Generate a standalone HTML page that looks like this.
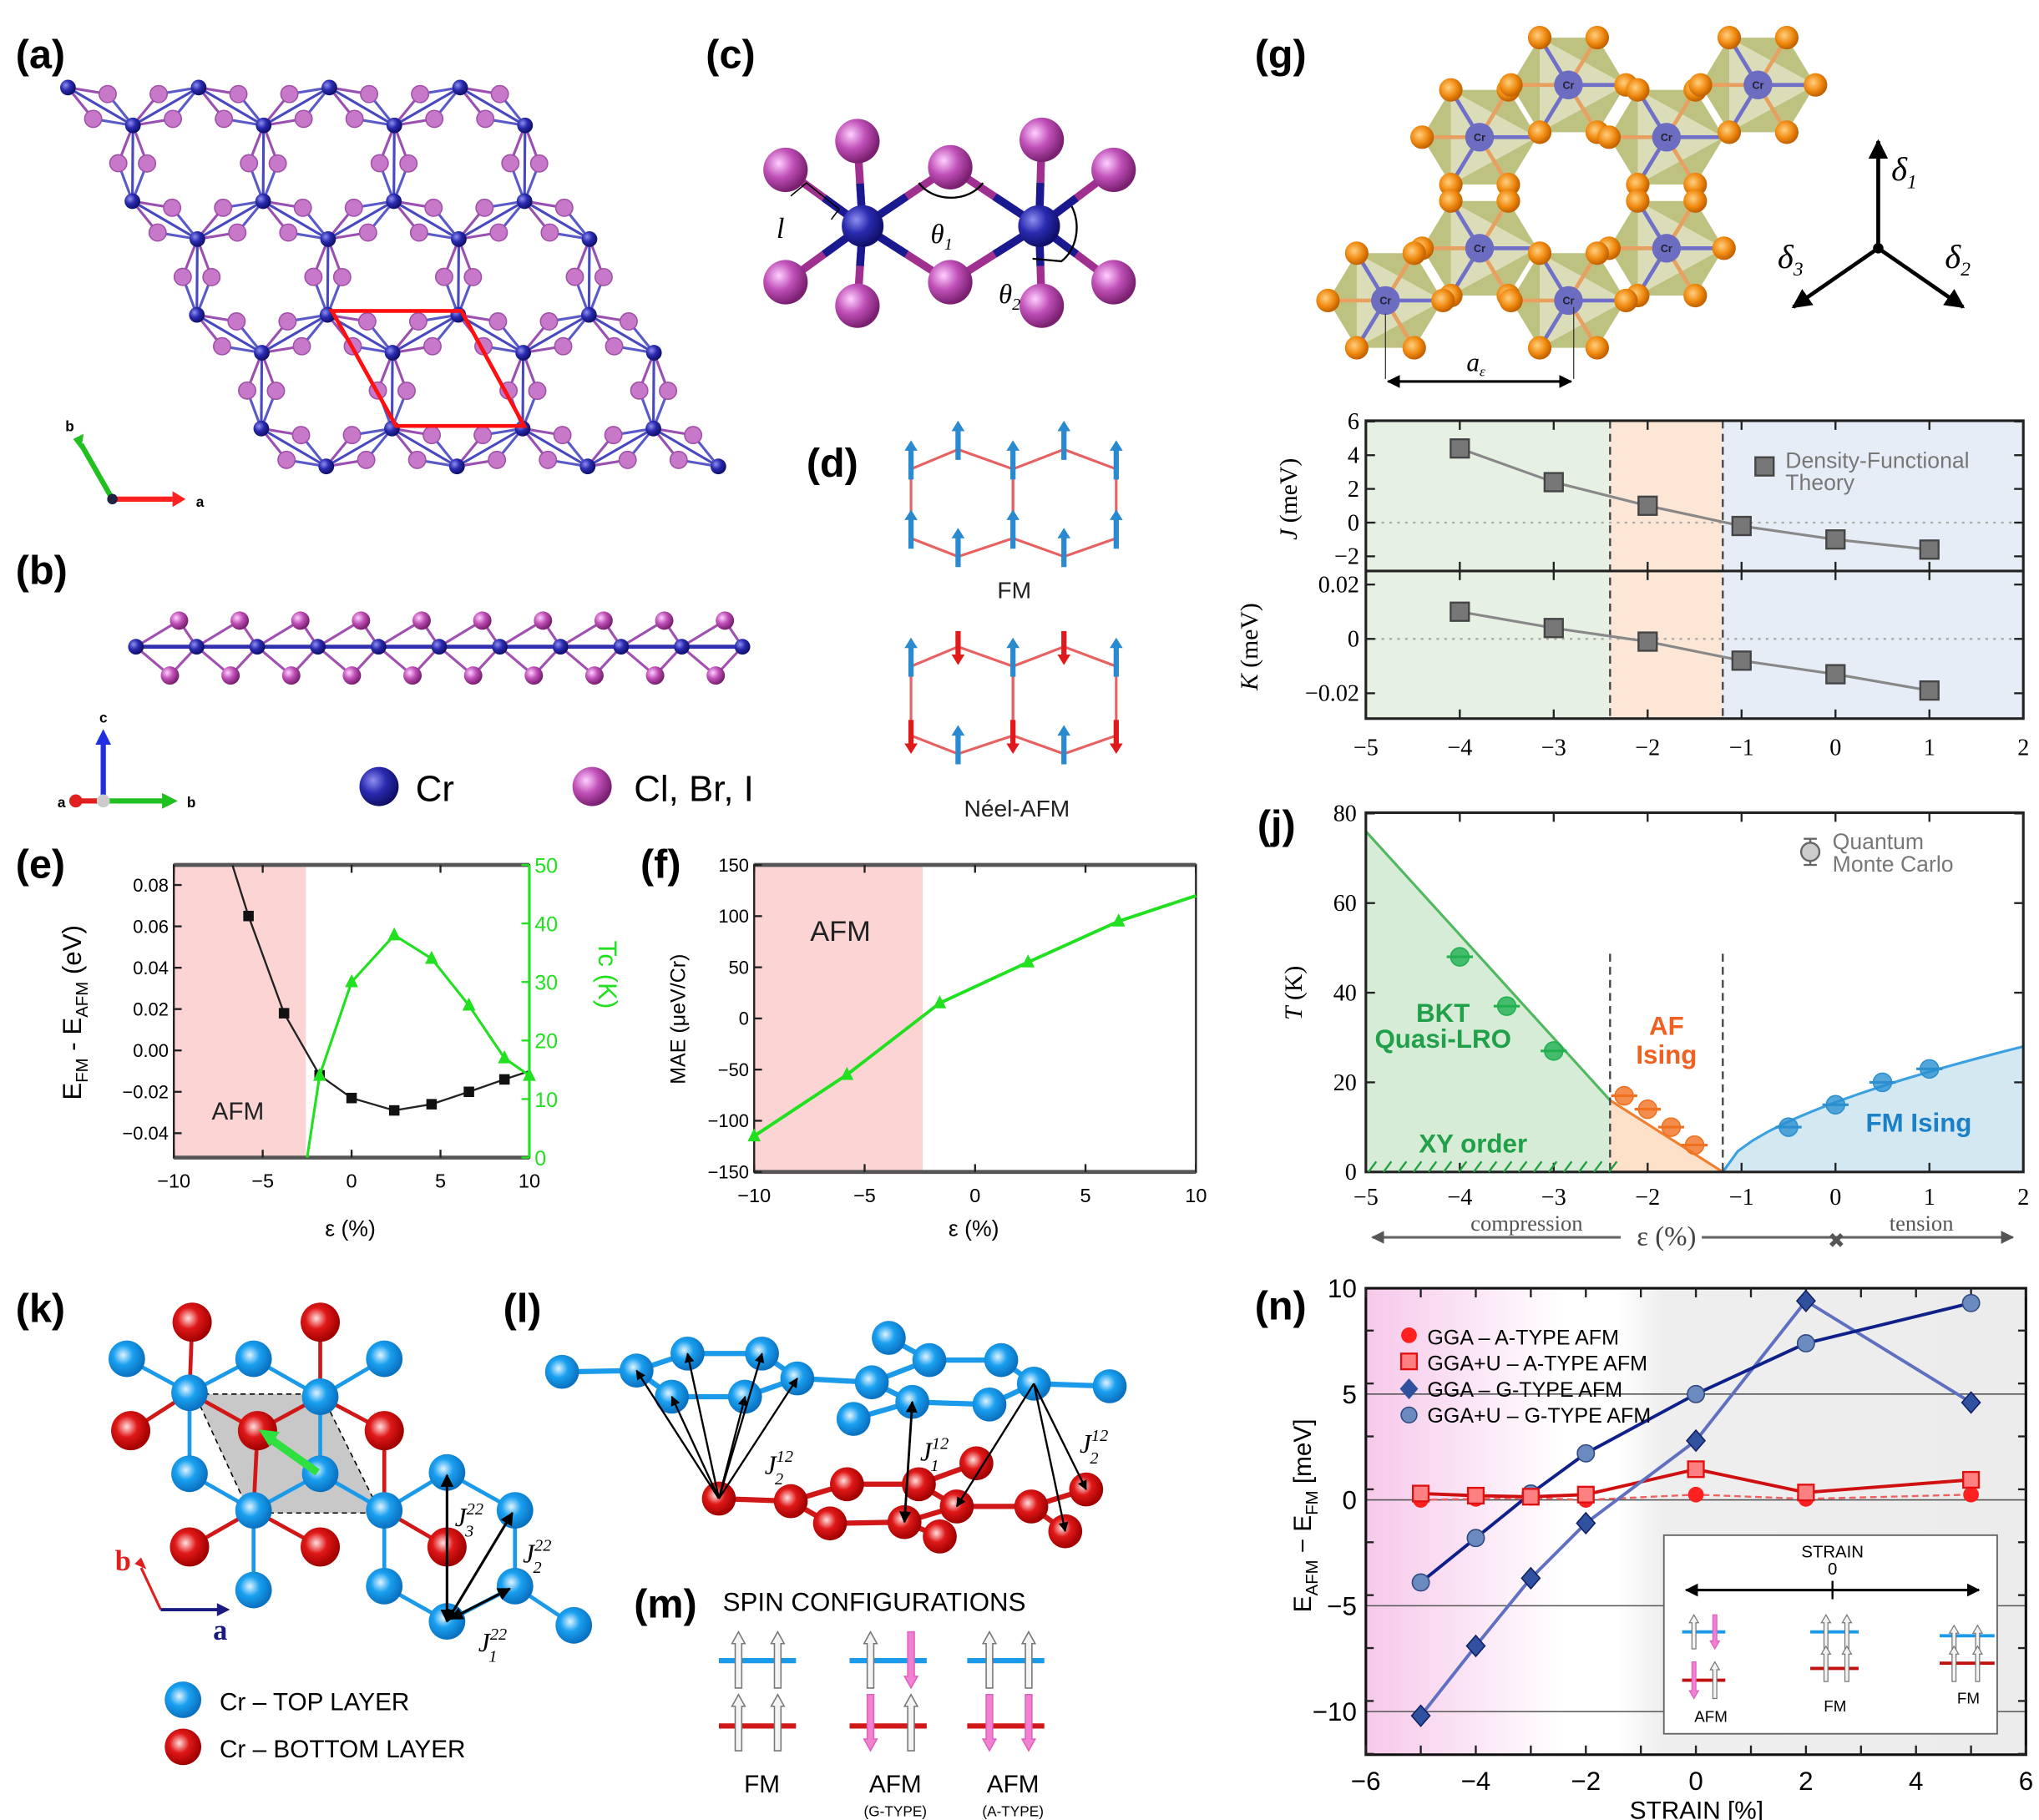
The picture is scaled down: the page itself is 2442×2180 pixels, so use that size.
<!DOCTYPE html>
<html><head><meta charset="utf-8"><style>
html,body{margin:0;padding:0;background:#fff}
svg{display:block}
text{font-family:"Liberation Sans",sans-serif}
.pl{font-weight:bold;font-size:31px}
.ser{font-family:"Liberation Serif",serif}
</style></head><body>
<svg id="s" xmlns="http://www.w3.org/2000/svg" width="2442" height="2180" viewBox="0 0 1560 1393" preserveAspectRatio="none">
<defs>
<radialGradient id="gB" cx="35%" cy="35%" r="65%"><stop offset="0" stop-color="#8f8ff0"/><stop offset="0.5" stop-color="#2a2ab0"/><stop offset="1" stop-color="#10106a"/></radialGradient>
<radialGradient id="gP" cx="35%" cy="35%" r="65%"><stop offset="0" stop-color="#ffd0ff"/><stop offset="0.5" stop-color="#c050b8"/><stop offset="1" stop-color="#7a2070"/></radialGradient>
<radialGradient id="gO" cx="40%" cy="40%" r="60%"><stop offset="0" stop-color="#ffd080"/><stop offset="0.6" stop-color="#f08a10"/><stop offset="1" stop-color="#c06000"/></radialGradient>
<radialGradient id="gC" cx="40%" cy="40%" r="60%"><stop offset="0" stop-color="#e0f4ff"/><stop offset="0.45" stop-color="#1aa0f0"/><stop offset="1" stop-color="#0a70c0"/></radialGradient>
<radialGradient id="gR" cx="40%" cy="40%" r="60%"><stop offset="0" stop-color="#ffe0e0"/><stop offset="0.45" stop-color="#e01818"/><stop offset="1" stop-color="#a00000"/></radialGradient>
<linearGradient id="nbg" x1="0" x2="1" y1="0" y2="0"><stop offset="0" stop-color="#f6c8ea"/><stop offset="0.3" stop-color="#ffffff"/><stop offset="0.38" stop-color="#ffffff"/><stop offset="0.45" stop-color="#eeeeee"/><stop offset="1" stop-color="#ececec"/></linearGradient>
<marker id="ah" viewBox="0 0 10 10" refX="9" refY="5" markerWidth="5" markerHeight="5" orient="auto-start-reverse"><path d="M0,0L10,5L0,10z" fill="#000"/></marker>
<marker id="ahg" viewBox="0 0 10 10" refX="9" refY="5" markerWidth="5" markerHeight="5" orient="auto-start-reverse"><path d="M0,0L10,5L0,10z" fill="#555"/></marker>
</defs>
<g id="root"></g>
</svg>
<script>
var o=[];
function P(s){o.push(s)}
function L(x1,y1,x2,y2,c,w,ex){P('<line x1="'+x1+'" y1="'+y1+'" x2="'+x2+'" y2="'+y2+'" stroke="'+c+'" stroke-width="'+(w||1)+'" '+(ex||'')+'/>')}
function C(x,y,r,f,ex){P('<circle cx="'+x+'" cy="'+y+'" r="'+r+'" fill="'+f+'" '+(ex||'')+'/>')}
function T(x,y,s,sz,ex){P('<text x="'+x+'" y="'+y+'" font-size="'+sz+'" '+(ex||'')+'>'+s+'</text>')}
// panel labels
[['(a)',12,52],['(b)',12,447],['(c)',540,52],['(d)',617,365],['(e)',12,672],['(f)',490,672],['(g)',960,52],['(h)',1058,362],['(i)',1058,472],['(j)',962,642],['(k)',12,1012],['(l)',385,1012],['(m)',485,1238],['(n)',960,1010]].forEach(function(a){T(a[1],a[2],a[0],31,'class="pl"')});

// ===== (a) lattice
(function(){
 var cr=[],a1=[100,0],a2=[49.3,87],o0=[52,67],off=[49.7,29];
 for(var j=0;j<4;j++)for(var i=0;i<4;i++){
  var x=o0[0]+i*a1[0]+j*a2[0],y=o0[1]+j*a2[1];
  cr.push([x,y]);cr.push([x+off[0],y+off[1]]);}
 var bonds=[];
 for(var p=0;p<cr.length;p++)for(var q=p+1;q<cr.length;q++){var dx=cr[q][0]-cr[p][0],dy=cr[q][1]-cr[p][1];var d=Math.sqrt(dx*dx+dy*dy);if(d<62)bonds.push([cr[p],cr[q]]);}
 var iod=[];
 bonds.forEach(function(b){var mx=(b[0][0]+b[1][0])/2,my=(b[0][1]+b[1][1])/2,dx=b[1][0]-b[0][0],dy=b[1][1]-b[0][1],d=Math.sqrt(dx*dx+dy*dy),px=-dy/d*11,py=dx/d*11;
  iod.push([mx+px,my+py,b]);iod.push([mx-px,my-py,b]);});
 iod.forEach(function(I){L(I[2][0][0],I[2][0][1],I[0],I[1],'#9a50b0',2);L(I[2][1][0],I[2][1][1],I[0],I[1],'#5a5ac8',2)});
 bonds.forEach(function(b){L(b[0][0],b[0][1],b[1][0],b[1][1],'#4848c0',2)});
 iod.forEach(function(I){C(I[0].toFixed(1),I[1].toFixed(1),6.5,'#c878c8','stroke="#a050a8" stroke-width="1"')});
 cr.forEach(function(c){C(c[0],c[1],6,'url(#gB)')});
 P('<polygon points="254,238 353,238 401,326 303,326" fill="none" stroke="#ff1010" stroke-width="3"/>');
 L(86,382,62,340,'#20c020',4);L(86,382,132,382,'#ff2020',4);
 P('<path d="M56,336 L64,332 L62,344z" fill="#20c020"/><path d="M132,376 L142,382 L132,388z" fill="#ff2020"/>');
 C(86,382,4,'#224');T(50,330,'b',11,'font-weight="bold"');T(150,388,'a',11,'font-weight="bold"');
})();

// ===== (b) side chain
(function(){
 var y=495;
 for(var k=0;k<11;k++){var x=104+k*46.4;
  if(k<10){var xt=137+k*46.4, xb=119+k*46.4+11;
   L(x,y,xt,475,'#a050b0',2);L(x+46.4,y,xt,475,'#a050b0',2);
   L(x,y,xb,517,'#a050b0',2);L(x+46.4,y,xb,517,'#a050b0',2);}
 }
 L(104,y,568,y,'#3030b0',3);
 for(var k=0;k<10;k++){C(137+k*46.4,475,7,'url(#gP)');C(130+k*46.4,517,7,'url(#gP)');}
 for(var k=0;k<11;k++)C(104+k*46.4,y,6,'url(#gB)');
 L(79,613,79,568,'#2030e0',4);P('<path d="M73,570 L79,558 L85,570z" fill="#2030e0"/>');
 L(79,613,126,613,'#20c020',4);P('<path d="M124,607 L136,613 L124,619z" fill="#20c020"/>');
 L(79,613,60,613,'#e02020',4);C(58,613,5,'#e02020');C(79,613,5,'#ccc');
 T(76,553,'c',11,'font-weight="bold"');T(143,618,'b',11,'font-weight="bold"');T(44,618,'a',11,'font-weight="bold"');
 C(290,602,15,'url(#gB)');T(318,613,'Cr',28);
 C(453,602,15,'url(#gP)');T(485,613,'Cl, Br, I',28);
})();

// ===== (c)
(function(){
 var crs=[[660,173],[795,173]];
 var ps=[[601,130],[656,108],[727,128],[797,107],[852,130],[601,216],[656,234],[727,216],[797,234],[852,216]];
 var nb=[[0,0],[0,1],[0,2],[0,5],[0,6],[0,7],[1,2],[1,3],[1,4],[1,7],[1,8],[1,9]];
 nb.forEach(function(n){var c=crs[n[0]],p=ps[n[1]];L(c[0],c[1],p[0],p[1],'#a03090',6);L(c[0],c[1],(c[0]+p[0])/2,(c[1]+p[1])/2,'#1a1a90',6)});
 ps.forEach(function(p){C(p[0],p[1],17,'url(#gP)')});
 crs.forEach(function(c){C(c[0],c[1],16,'url(#gB)')});
 P('<path d="M703,140 A28,22 0 0 0 752,140" fill="none" stroke="#000" stroke-width="1.5"/>');
 P('<path d="M820,158 A24,30 0 0 1 812,200 L790,198" fill="none" stroke="#000" stroke-width="1.5"/>');
 P('<path d="M605,150 L617,140 L642,160 L636,168" fill="none" stroke="#000" stroke-width="1"/>');
 T(594,182,'l',22,'class="ser" font-style="italic"');
 T(712,186,'θ<tspan font-size="13" dy="5">1</tspan>',21,'class="ser" font-style="italic"');
 T(764,232,'θ<tspan font-size="13" dy="5">2</tspan>',21,'class="ser" font-style="italic"');
})();

// ===== (d)
(function(){
 function hexes(y0,dy){
  var xs=[697,733,775,814,854];
  var ys=[y0,y0+15,y0+68,y0+82];
  var pts1=[[697,ys[1]],[733,ys[0]],[775,ys[1]],[775,ys[2]],[733,ys[3]],[697,ys[2]]];
  var pts2=[[775,ys[1]],[814,ys[0]],[854,ys[1]],[854,ys[2]],[814,ys[3]],[775,ys[2]]];
  [pts1,pts2].forEach(function(p){P('<polygon points="'+p.map(function(q){return q.join(',')}).join(' ')+'" fill="none" stroke="#e86060" stroke-width="2"/>')});
  return {top:[[733,ys[0]],[814,ys[0]]],up:[[697,ys[1]],[775,ys[1]],[854,ys[1]]],lo:[[697,ys[2]],[775,ys[2]],[854,ys[2]]],bot:[[733,ys[3]],[814,ys[3]]]};
 }
 function arr(x,y,up,col){var h=22;if(up){L(x,y+8,x,y-h+6,col,4);P('<path d="M'+(x-5)+','+(y-h+8)+' L'+x+','+(y-h)+' L'+(x+5)+','+(y-h+8)+'z" fill="'+col+'"/>');}
  else{L(x,y-12,x,y+h-14,col,4);P('<path d="M'+(x-5)+','+(y+h-16)+' L'+x+','+(y+h-8)+' L'+(x+5)+','+(y+h-16)+'z" fill="'+col+'"/>');}}
 var b='#2a8ad0',r='#e01a1a';
 var h1=hexes(344);
 h1.top.concat(h1.up,h1.lo,h1.bot).forEach(function(p){arr(p[0],p[1],true,b)});
 T(776,458,'FM',18,'text-anchor="middle" fill="#222"');
 var h2=hexes(495);
 h2.top.forEach(function(p){arr(p[0],p[1],false,r)});h2.up.forEach(function(p){arr(p[0],p[1],true,b)});
 h2.lo.forEach(function(p){arr(p[0],p[1],false,r)});h2.bot.forEach(function(p){arr(p[0],p[1],true,b)});
 T(778,625,'Néel-AFM',18,'text-anchor="middle" fill="#222"');
})();

// ===== (e)
(function(){
 var X=function(v){return 133+(v+10)*13.6},Y=function(v){return 804-v*1583},Y2=function(v){return 886-v*4.48};
 P('<rect x="133" y="662" width="101" height="224" fill="#fcd4d4"/>');
 P('<rect x="133" y="662" width="272" height="224" fill="none" stroke="#222" stroke-width="1.5"/>');
 L(133,662,405,662,'#555',3);L(133,886,405,886,'#555',3);
 [-10,-5,0,5,10].forEach(function(v){L(X(v),886,X(v),880,'#222',1.5);L(X(v),662,X(v),668,'#222',1.5);T(X(v),909,(v<0?'−':'')+Math.abs(v),15,'text-anchor="middle"')});
 [0.08,0.06,0.04,0.02,0,-0.02,-0.04].forEach(function(v){L(133,Y(v),139,Y(v),'#222',1.5);T(129,Y(v)+5,(v<0?'−':'')+Math.abs(v).toFixed(2),14,'text-anchor="end"')});
 L(405,662,405,886,'#20e020',2);
 [0,10,20,30,40,50].forEach(function(v){L(405,Y2(v),399,Y2(v),'#20e020',1.5);T(409,Y2(v)+6,v,16,'fill="#20e020"')});
 var bk=[[-6.7,0.0895],[-5.8,0.065],[-3.8,0.018],[-1.8,-0.012],[0,-0.023],[2.4,-0.029],[4.5,-0.026],[6.6,-0.020],[8.6,-0.014],[10,-0.010]];
 P('<polyline points="'+bk.map(function(p){return X(p[0])+','+Y(p[1])}).join(' ')+'" fill="none" stroke="#222" stroke-width="1.5"/>');
 bk.slice(1,9).forEach(function(p){P('<rect x="'+(X(p[0])-4)+'" y="'+(Y(p[1])-4)+'" width="8" height="8" fill="#111"/>')});
 var g=[[-2.5,0],[-1.8,14],[0,30],[2.4,38],[4.5,34],[6.6,26],[8.6,17],[10,14]];
 P('<polyline points="'+g.map(function(p){return X(p[0])+','+Y2(p[1])}).join(' ')+'" fill="none" stroke="#20e020" stroke-width="2"/>');
 g.slice(1).forEach(function(p){var x=X(p[0]),y=Y2(p[1]);P('<path d="M'+(x-5)+','+(y+4)+' L'+x+','+(y-6)+' L'+(x+5)+','+(y+4)+'z" fill="#20e020"/>')});
 T(182,857,'AFM',19,'text-anchor="middle" fill="#222"');
 T(268,946,'ε (%)',17,'text-anchor="middle"');
 T(0,0,'E<tspan font-size="13" dy="5">FM</tspan><tspan dy="-5"> - E</tspan><tspan font-size="13" dy="5">AFM</tspan><tspan dy="-5"> (eV)</tspan>',20,'transform="translate(62,775) rotate(-90)" text-anchor="middle"');
 T(0,0,'Tc (K)',20,'transform="translate(458,746) rotate(90)" text-anchor="middle" fill="#20e020"');
})();

// ===== (f)
(function(){
 var X=function(v){return 577+(v+10)*16.9},Y=function(v){return 779.5-v*0.783};
 P('<rect x="577" y="662" width="129" height="235" fill="#fcd4d4"/>');
 P('<rect x="577" y="662" width="338" height="235" fill="none" stroke="#222" stroke-width="1.5"/>');
 L(577,662,915,662,'#555',3);L(577,897,915,897,'#555',3);
 [-10,-5,0,5,10].forEach(function(v){L(X(v),897,X(v),891,'#222',1.5);L(X(v),662,X(v),668,'#222',1.5);T(X(v),920,(v<0?'−':'')+Math.abs(v),15,'text-anchor="middle"')});
 [150,100,50,0,-50,-100,-150].forEach(function(v){L(577,Y(v),583,Y(v),'#222',1.5);T(573,Y(v)+5,(v<0?'−':'')+Math.abs(v),14,'text-anchor="end"')});
 var g=[[-10,-115],[-5.8,-55],[-1.6,15],[2.4,55],[6.5,95],[10,120]];
 P('<polyline points="'+g.map(function(p){return X(p[0])+','+Y(p[1])}).join(' ')+'" fill="none" stroke="#20e020" stroke-width="2.5"/>');
 g.slice(0,5).forEach(function(p){var x=X(p[0]),y=Y(p[1]);P('<path d="M'+(x-5)+','+(y+4)+' L'+x+','+(y-6)+' L'+(x+5)+','+(y+4)+'z" fill="#20e020"/>')});
 T(643,720,'AFM',22,'text-anchor="middle" fill="#222"');
 T(745,946,'ε (%)',17,'text-anchor="middle"');
 T(0,0,'MAE (μeV/Cr)',16,'transform="translate(524,780) rotate(-90)" text-anchor="middle"');
})();

// ===== (g)
(function(){
 var crs=[[1132,105],[1200,65],[1275,105],[1345,65],[1132,190],[1275,190],[1060,230],[1200,230]];
 var os={};var R=44;
 crs.forEach(function(c){
  var hp=[];for(var k=0;k<6;k++){var a=k*Math.PI/3;hp.push([(c[0]+R*Math.cos(a)).toFixed(1),(c[1]+R*0.95*Math.sin(a)).toFixed(1)]);}
  P('<polygon points="'+hp.map(function(q){return q.join(',')}).join(' ')+'" fill="#a8ad55" fill-opacity="0.75"/>');
  P('<polygon points="'+[hp[0],hp[2],hp[4]].map(function(q){return q.join(',')}).join(' ')+'" fill="#fff" fill-opacity="0.45"/>');
 });
 crs.forEach(function(c){for(var k=0;k<6;k++){var a=k*Math.PI/3;var x=c[0]+R*Math.cos(a),y=c[1]+R*0.95*Math.sin(a);var key=Math.round(x/8)+'_'+Math.round(y/8);L(c[0],c[1],x,y,k%2?'#e8a060':'#7070c8',3);os[key]=[x,y];}});
 for(var k in os)C(os[k][0].toFixed(1),os[k][1].toFixed(1),9,'url(#gO)');
 crs.forEach(function(c){C(c[0],c[1],11,'#6c6cc0');T(c[0],c[1]+3,'Cr',8,'text-anchor="middle" font-weight="bold" fill="#223"')});
 L(1060,290,1060,240,'#333',0.8);L(1204,290,1204,235,'#333',0.8);
 L(1062,292,1202,292,'#000',2,'marker-start="url(#ah)" marker-end="url(#ah)"');
 T(1122,284,'a<tspan font-size="11" dy="4">ε</tspan>',20,'class="ser" font-style="italic"');
 L(1437,190,1437,108,'#000',3,'marker-end="url(#ah)"');
 L(1437,190,1372,235,'#000',3,'marker-end="url(#ah)"');
 L(1437,190,1502,235,'#000',3,'marker-end="url(#ah)"');
 C(1437,190,4,'#000');
 T(1447,138,'δ<tspan font-size="15" dy="6">1</tspan>',26,'class="ser" font-style="italic"');
 T(1360,205,'δ<tspan font-size="15" dy="6">3</tspan>',26,'class="ser" font-style="italic"');
 T(1488,205,'δ<tspan font-size="15" dy="6">2</tspan>',26,'class="ser" font-style="italic"');
})();

// ===== (h),(i),(j)
(function(){
 var X=function(v){return 1045+(v+5)*71.86};
 var xg=X(-2.4),xo=X(-1.2);
 function bands(y1,y2){P('<rect x="1045" y="'+y1+'" width="'+(xg-1045)+'" height="'+(y2-y1)+'" fill="#e6f1e3"/><rect x="'+xg+'" y="'+y1+'" width="'+(xo-xg)+'" height="'+(y2-y1)+'" fill="#fce6d6"/><rect x="'+xo+'" y="'+y1+'" width="'+(1548-xo)+'" height="'+(y2-y1)+'" fill="#e6edf6"/>');}
 bands(322,550);
 L(xg,322,xg,550,'#444',1.5,'stroke-dasharray="6,4"');L(xo,322,xo,550,'#444',1.5,'stroke-dasharray="6,4"');
 var Yh=function(v){return 400-v*12.9},Yi=function(v){return 489-v*2080};
 L(1045,Yh(0),1548,Yh(0),'#aaa',1.5,'stroke-dasharray="2,4"');L(1045,Yi(0),1548,Yi(0),'#aaa',1.5,'stroke-dasharray="2,4"');
 P('<rect x="1045" y="322" width="503" height="228" fill="none" stroke="#222" stroke-width="2"/>');L(1045,437,1548,437,'#222',2);
 for(var v=-5;v<=2;v++){var x=X(v);L(x,322,x,329,'#222',1.5);L(x,437,x,430,'#222',1.5);L(x,437,x,444,'#222',1.5);L(x,550,x,543,'#222',1.5);T(x,578,(v<0?'−':'')+Math.abs(v),18,'class="ser" text-anchor="middle"');}
 [6,4,2,0,-2].forEach(function(v){L(1045,Yh(v),1052,Yh(v),'#222',1.5);L(1548,Yh(v),1541,Yh(v),'#222',1.5);T(1040,Yh(v)+6,(v<0?'−':'')+Math.abs(v),18,'class="ser" text-anchor="end"')});
 [0.02,0,-0.02].forEach(function(v){L(1045,Yi(v),1052,Yi(v),'#222',1.5);L(1548,Yi(v),1541,Yi(v),'#222',1.5);T(1040,Yi(v)+6,(v<0?'−':'')+(v==0?'0':Math.abs(v)),18,'class="ser" text-anchor="end"')});
 var hd=[[-4,4.4],[-3,2.4],[-2,1.0],[-1,-0.2],[0,-1.0],[1,-1.6]],id=[[-4,0.010],[-3,0.004],[-2,-0.001],[-1,-0.008],[0,-0.013],[1,-0.019]];
 P('<polyline points="'+hd.map(function(p){return X(p[0])+','+Yh(p[1])}).join(' ')+'" fill="none" stroke="#888" stroke-width="2"/>');
 P('<polyline points="'+id.map(function(p){return X(p[0])+','+Yi(p[1])}).join(' ')+'" fill="none" stroke="#888" stroke-width="2"/>');
 hd.forEach(function(p){P('<rect x="'+(X(p[0])-7)+'" y="'+(Yh(p[1])-7)+'" width="14" height="14" fill="#777" stroke="#444" stroke-width="1.5"/>')});
 id.forEach(function(p){P('<rect x="'+(X(p[0])-7)+'" y="'+(Yi(p[1])-7)+'" width="14" height="14" fill="#777" stroke="#444" stroke-width="1.5"/>')});
 P('<rect x="1343" y="350" width="14" height="14" fill="#777" stroke="#444" stroke-width="1.5"/>');
 T(1366,358,'Density-Functional',17,'fill="#777"');T(1366,375,'Theory',17,'fill="#777"');
 T(0,0,'<tspan font-style="italic">J</tspan> (meV)',19,'class="ser" transform="translate(992,382) rotate(-90)" text-anchor="middle"');
 T(0,0,'<tspan font-style="italic">K</tspan> (meV)',19,'class="ser" transform="translate(962,495) rotate(-90)" text-anchor="middle"');
 // (j)
 var Y=function(v){return 897-v*3.43};
 P('<polygon points="1045,'+Y(76)+' '+xg+','+Y(16)+' '+xg+',897 1045,897" fill="#d6ecd6"/>');
 L(1045,Y(76),xg,Y(16),'#50b860',2);
 P('<polygon points="'+xg+','+Y(16)+' '+xo+',897 '+xg+',897" fill="#fde0c8"/>');
 L(xg,Y(16),xo,897,'#f08030',2);
 var bp=[];for(var t=0;t<=20;t++){var v=-1.2+t*3.2/20;bp.push([X(v),Y(28*Math.pow((v+1.2)/3.2,0.6))]);}
 P('<polygon points="'+bp.map(function(p){return p.join(',')}).join(' ')+' 1548,897" fill="#d4e8f2"/>');
 P('<polyline points="'+bp.map(function(p){return p.join(',')}).join(' ')+'" fill="none" stroke="#3aa0e0" stroke-width="2"/>');
 L(xg,730,xg,897,'#444',1.5,'stroke-dasharray="6,4"');L(xo,730,xo,897,'#444',1.5,'stroke-dasharray="6,4"');
 P('<rect x="1045" y="622" width="503" height="275" fill="none" stroke="#222" stroke-width="2"/>');
 for(var v=-5;v<=2;v++){var x=X(v);L(x,622,x,629,'#222',1.5);L(x,897,x,890,'#222',1.5);T(x,922,(v<0?'−':'')+Math.abs(v),18,'class="ser" text-anchor="middle"');}
 [0,20,40,60,80].forEach(function(v){L(1045,Y(v),1052,Y(v),'#222',1.5);L(1548,Y(v),1541,Y(v),'#222',1.5);T(1038,Y(v)+6,v,18,'class="ser" text-anchor="end"')});
 for(var k=0;k<17;k++){var x=1050+k*11.5;L(x-3,897,x+3,889,'#20a040',1.5)}
 [[-4,48,'#20b050'],[-3.5,37,'#20b050'],[-3,27,'#20b050'],[-2.25,17,'#f07020'],[-2,14,'#f07020'],[-1.75,10,'#f07020'],[-1.5,6,'#f07020'],[-0.5,10,'#2a90d0'],[0,15,'#2a90d0'],[0.5,20,'#2a90d0'],[1,23,'#2a90d0']].forEach(function(p){var x=X(p[0]),y=Y(p[1]);L(x-10,y,x+10,y,p[2],2);C(x,y,7,p[2],'stroke="'+p[2]+'" fill-opacity="0.8"')});
 T(1104,782,'BKT',20,'text-anchor="middle" font-weight="bold" fill="#20a048"');T(1104,802,'Quasi-LRO',20,'text-anchor="middle" font-weight="bold" fill="#20a048"');
 T(1127,882,'XY order',20,'text-anchor="middle" font-weight="bold" fill="#20a048"');
 T(1275,792,'AF',20,'text-anchor="middle" font-weight="bold" fill="#f06020"');T(1275,814,'Ising',20,'text-anchor="middle" font-weight="bold" fill="#f06020"');
 T(1468,866,'FM Ising',20,'text-anchor="middle" font-weight="bold" fill="#1a80c8"');
 L(1385,642,1385,662,'#666',1.5);L(1380,642,1390,642,'#666',1.5);L(1380,662,1390,662,'#666',1.5);C(1385,652,7,'#ccc','stroke="#666" stroke-width="1.5"');
 T(1402,650,'Quantum',17,'fill="#777"');T(1402,667,'Monte Carlo',17,'fill="#777"');
 T(0,0,'<tspan font-style="italic">T</tspan> (K)',19,'class="ser" transform="translate(996,760) rotate(-90)" text-anchor="middle"');
 L(1240,947,1050,947,'#666',2,'marker-end="url(#ahg)"');L(1302,947,1540,947,'#666',2,'marker-end="url(#ahg)"');
 T(1168,942,'compression',17,'class="ser" text-anchor="middle" fill="#555"');
 T(1275,953,'ε (%)',21,'class="ser" text-anchor="middle" fill="#444"');
 T(1470,942,'tension',17,'class="ser" text-anchor="middle" fill="#555"');
 T(1405,955,'✖',16,'text-anchor="middle" fill="#555"');
})();

// ===== (k)
(function(){
 var B=[[97,1040],[194,1040],[294,1040],[145,1066],[245,1069],[145,1128],[245,1128],[194,1156],[294,1156],[342,1127],[394,1156],[194,1217],[294,1214],[394,1214],[342,1241],[439,1244]];
 var R=[[147,1012],[245,1012],[100,1095],[197,1095],[294,1095],[145,1184],[245,1184],[342,1184]];
 P('<polygon points="149,1067 246,1067 291,1158 191,1158" fill="#c8c8c8" stroke="#000" stroke-width="1" stroke-dasharray="4,3"/>');
 [[147,1012,145,1066],[245,1012,245,1069],[100,1095,145,1066],[145,1066,197,1095],[197,1095,245,1069],[245,1069,294,1095],[197,1095,194,1156],[294,1095,294,1156],[194,1156,145,1184],[194,1156,245,1184],[294,1156,342,1184]].forEach(function(l){L(l[0],l[1],l[2],l[3],'#d01818',3)});
 [[145,1066,97,1040],[145,1066,194,1040],[194,1040,245,1069],[245,1069,294,1040],[145,1066,145,1128],[245,1069,245,1128],[145,1128,194,1156],[245,1128,194,1156],[245,1128,294,1156],[194,1156,194,1217],[294,1156,342,1127],[294,1156,294,1214],[342,1127,394,1156],[394,1156,394,1214],[394,1214,342,1241],[394,1214,439,1244],[294,1214,342,1241]].forEach(function(l){L(l[0],l[1],l[2],l[3],'#1a9ae8',3)});
 R.forEach(function(p){C(p[0],p[1],15,'url(#gR)')});
 B.forEach(function(p){C(p[0],p[1],14,'url(#gC)')});
 L(243,1127,205,1100,'#30e040',6);P('<path d="M198,1094 L214,1096 L206,1107z" fill="#30e040"/>');
 L(342,1241,342,1129,'#000',2,'marker-start="url(#ah)" marker-end="url(#ah)"');
 L(342,1241,392,1158,'#000',2,'marker-start="url(#ah)" marker-end="url(#ah)"');
 L(345,1239,390,1216,'#000',2,'marker-start="url(#ah)" marker-end="url(#ah)"');
 T(348,1168,'J<tspan font-size="13" dy="-9">22</tspan><tspan font-size="13" dx="-14" dy="17">3</tspan>',20,'class="ser" font-style="italic"');
 T(400,1196,'J<tspan font-size="13" dy="-9">22</tspan><tspan font-size="13" dx="-14" dy="17">2</tspan>',20,'class="ser" font-style="italic"');
 T(366,1264,'J<tspan font-size="13" dy="-9">22</tspan><tspan font-size="13" dx="-14" dy="17">1</tspan>',20,'class="ser" font-style="italic"');
 L(123,1232,108,1200,'#e02020',2);P('<path d="M103,1197 L108,1192 L112,1201z" fill="#e02020"/>');
 L(123,1232,168,1232,'#1a1a80',2.5);P('<path d="M166,1227 L176,1232 L166,1237z" fill="#1a1a80"/>');
 T(88,1202,'b',22,'class="ser" font-weight="bold" fill="#e02020"');T(163,1255,'a',22,'class="ser" font-weight="bold" fill="#1a1a80"');
 C(140,1301,14,'url(#gC)');T(168,1309,'Cr – TOP LAYER',19);
 C(140,1337,14,'url(#gR)');T(168,1345,'Cr – BOTTOM LAYER',19);
})();

// ===== (l)
(function(){
 var B=[[430,1050],[487,1049],[526,1036],[583,1036],[514,1069],[570,1069],[610,1055],[667,1058],[680,1024],[711,1041],[766,1041],[698,1073],[653,1086],[757,1075],[791,1059],[849,1061]];
 var bb=[[0,1],[1,2],[2,3],[3,6],[1,4],[4,5],[5,6],[6,7],[7,9],[9,10],[10,14],[7,11],[11,13],[13,14],[11,12],[8,9],[14,15]];
 var R=[[550,1147],[605,1149],[648,1136],[703,1136],[747,1120],[635,1166],[692,1165],[732,1153],[789,1153],[831,1140],[815,1172],[719,1176]];
 var rb=[[0,1],[1,2],[2,3],[3,4],[1,5],[5,6],[6,7],[7,3],[7,8],[8,9],[8,10],[6,11]];
 bb.forEach(function(e){L(B[e[0]][0],B[e[0]][1],B[e[1]][0],B[e[1]][1],'#1a9ae8',4)});
 rb.forEach(function(e){L(R[e[0]][0],R[e[0]][1],R[e[1]][0],R[e[1]][1],'#d01818',4)});
 B.forEach(function(p){C(p[0],p[1],13,'url(#gC)')});
 R.forEach(function(p){C(p[0],p[1],13,'url(#gR)')});
 [[487,1049],[514,1069],[526,1036],[570,1069],[583,1036],[610,1055]].forEach(function(p){L(550,1147,p[0],p[1],'#000',1.5,'marker-end="url(#ah)"')});
 L(698,1073,692,1165,'#000',1.8,'marker-start="url(#ah)" marker-end="url(#ah)"');
 [[732,1153],[831,1140],[815,1172]].forEach(function(p){L(791,1059,p[0],p[1],'#000',1.5,'marker-end="url(#ah)"')});
 T(585,1128,'J<tspan font-size="13" dy="-9">12</tspan><tspan font-size="13" dx="-14" dy="17">2</tspan>',20,'class="ser" font-style="italic"');
 T(704,1118,'J<tspan font-size="13" dy="-9">12</tspan><tspan font-size="13" dx="-14" dy="17">1</tspan>',20,'class="ser" font-style="italic"');
 T(826,1112,'J<tspan font-size="13" dy="-9">12</tspan><tspan font-size="13" dx="-14" dy="17">2</tspan>',20,'class="ser" font-style="italic"');
})();

// ===== (m)
(function(){
 T(553,1233,'SPIN CONFIGURATIONS',20);
 function ar(x,y1,y2,pink){var up=y2<y1;var f=pink?'#f080d0':'#f4f4f4',s=pink?'#e060c0':'#777';
  var hy=up?y2+9:y2-9;
  P('<path d="M'+(x-2.5)+','+y1+' L'+(x-2.5)+','+hy+' L'+(x-5)+','+hy+' L'+x+','+y2+' L'+(x+5)+','+hy+' L'+(x+2.5)+','+hy+' L'+(x+2.5)+','+y1+'z" fill="'+f+'" stroke="'+s+'" stroke-width="1"/>');}
 [[550,609],[650,709],[740,799]].forEach(function(g){L(g[0],1271,g[1],1271,'#1a9ae8',4);L(g[0],1321,g[1],1321,'#d01818',4)});
 ar(565,1292,1249,0);ar(595,1292,1249,0);ar(565,1340,1297,0);ar(595,1340,1297,0);
 ar(666,1292,1249,0);ar(697,1249,1292,1);ar(666,1297,1340,1);ar(697,1340,1297,0);
 ar(757,1292,1249,0);ar(787,1292,1249,0);ar(757,1297,1340,1);ar(787,1297,1340,1);
 T(583,1372,'FM',19,'text-anchor="middle"');T(685,1372,'AFM',19,'text-anchor="middle"');T(775,1372,'AFM',19,'text-anchor="middle"');
 T(685,1390,'(G-TYPE)',11,'text-anchor="middle"');T(775,1390,'(A-TYPE)',11,'text-anchor="middle"');
})();

// ===== (n)
(function(){
 var X=function(v){return 1297.5+v*42.1},Y=function(v){return 1148-v*16.2};
 P('<rect x="1045" y="986" width="505" height="357" fill="url(#nbg)"/>');
 [5,0,-5,-10].forEach(function(v){L(1045,Y(v),1550,Y(v),'#555',1)});
 P('<rect x="1045" y="986" width="505" height="357" fill="none" stroke="#111" stroke-width="2"/>');
 for(var v=-6;v<=6;v++){L(X(v),986,X(v),993,'#222',1.5);L(X(v),1343,X(v),1336,'#222',1.5);if(v%2==0)T(X(v),1370,(v<0?'−':'')+Math.abs(v),20,'text-anchor="middle"');}
 for(var v=-12;v<=10;v+=2.5){L(1045,Y(v),1051,Y(v),'#222',1.5);L(1550,Y(v),1544,Y(v),'#222',1.5);}
 [10,5,0,-5,-10].forEach(function(v){T(1038,Y(v)+7,(v<0?'−':'')+Math.abs(v),20,'text-anchor="end"')});
 T(1298,1392,'STRAIN [%]',19,'text-anchor="middle"');
 T(0,0,'E<tspan font-size="13" dy="5">AFM</tspan><tspan dy="-5"> − E</tspan><tspan font-size="13" dy="5">FM</tspan><tspan dy="-5">  [meV]</tspan>',19,'transform="translate(1003,1160) rotate(-90)" text-anchor="middle"');
 var xs=[-5,-4,-3,-2,0,2,5];
 var gu=[-3.9,-1.8,0.3,2.2,5,7.4,9.3],gg=[-10.2,-6.9,-3.7,-1.1,2.8,9.4,4.6],ua=[0.3,0.2,0.15,0.25,1.45,0.35,0.95],ga=[0,0.05,0.1,0,0.25,0.05,0.25];
 function pl(d,c,w,ex){P('<polyline points="'+xs.map(function(x,i){return X(x)+','+Y(d[i])}).join(' ')+'" fill="none" stroke="'+c+'" stroke-width="'+w+'" '+(ex||'')+'/>')}
 pl(ga,'#f06060',1.5,'stroke-dasharray="5,3"');pl(ua,'#d01010',2.5);pl(gg,'#6070c0',2.5);pl(gu,'#10208a',2.5);
 xs.forEach(function(x,i){var px=X(x),py=Y(gg[i]);P('<path d="M'+px+','+(py-8)+' L'+(px+7)+','+py+' L'+px+','+(py+8)+' L'+(px-7)+','+py+'z" fill="#3050a0" stroke="#102060"/>')});
 xs.forEach(function(x,i){C(X(x),Y(gu[i]),6.5,'#6a8ac0','stroke="#304a80"')});
 xs.forEach(function(x,i){C(X(x),Y(ga[i]),6,'#ff2020')});
 xs.forEach(function(x,i){P('<rect x="'+(X(x)-6)+'" y="'+(Y(ua[i])-6)+'" width="12" height="12" fill="#ff8080" stroke="#e01010" stroke-width="1.5"/>')});
 C(1078,1022,6,'#ff2020');P('<rect x="1072" y="1036" width="12" height="12" fill="#ff8080" stroke="#e01010" stroke-width="1.5"/>');
 P('<path d="M1078,1055 L1085,1063 L1078,1071 L1071,1063z" fill="#3050a0"/>');C(1078,1083,6,'#6a8ac0','stroke="#304a80"');
 T(1092,1029,'GGA – A-TYPE AFM',16);T(1092,1049,'GGA+U – A-TYPE AFM',16);T(1092,1069,'GGA – G-TYPE AFM',16);T(1092,1089,'GGA+U – G-TYPE AFM',16);
 // inset
 P('<rect x="1273" y="1175" width="255" height="152" fill="#fff" stroke="#666" stroke-width="1.2"/>');
 T(1402,1192,'STRAIN',13,'text-anchor="middle"');T(1402,1205,'0',13,'text-anchor="middle"');
 L(1290,1217,1514,1217,'#000',2,'marker-start="url(#ah)" marker-end="url(#ah)"');L(1402,1210,1402,1224,'#000',1.5);
 function ar(x,y1,y2,pink){var up=y2<y1;var f=pink?'#f080d0':'#f4f4f4',s=pink?'#e060c0':'#777';var hy=up?y2+6:y2-6;
  P('<path d="M'+(x-1.5)+','+y1+' L'+(x-1.5)+','+hy+' L'+(x-3.5)+','+hy+' L'+x+','+y2+' L'+(x+3.5)+','+hy+' L'+(x+1.5)+','+hy+' L'+(x+1.5)+','+y1+'z" fill="'+f+'" stroke="'+s+'" stroke-width="0.8"/>');}
 L(1287,1249,1320,1249,'#1a9ae8',2.5);L(1287,1286,1320,1286,'#c01010',2.5);
 ar(1296,1262,1236,0);ar(1312,1236,1262,1);ar(1296,1272,1300,1);ar(1312,1300,1272,0);
 L(1385,1249,1422,1249,'#1a9ae8',2.5);L(1385,1277,1422,1277,'#c01010',2.5);
 ar(1397,1263,1236,0);ar(1413,1263,1236,0);ar(1397,1287,1260,0);ar(1413,1287,1260,0);
 L(1484,1252,1526,1252,'#1a9ae8',2.5);L(1484,1273,1526,1273,'#c01010',2.5);
 ar(1495,1268,1244,0);ar(1513,1268,1244,0);ar(1495,1287,1260,0);ar(1513,1287,1260,0);
 T(1309,1318,'AFM',12,'text-anchor="middle"');T(1404,1310,'FM',12,'text-anchor="middle"');T(1506,1304,'FM',12,'text-anchor="middle"');
})();
document.getElementById('root').innerHTML=o.join('');
</script>
</body></html>
